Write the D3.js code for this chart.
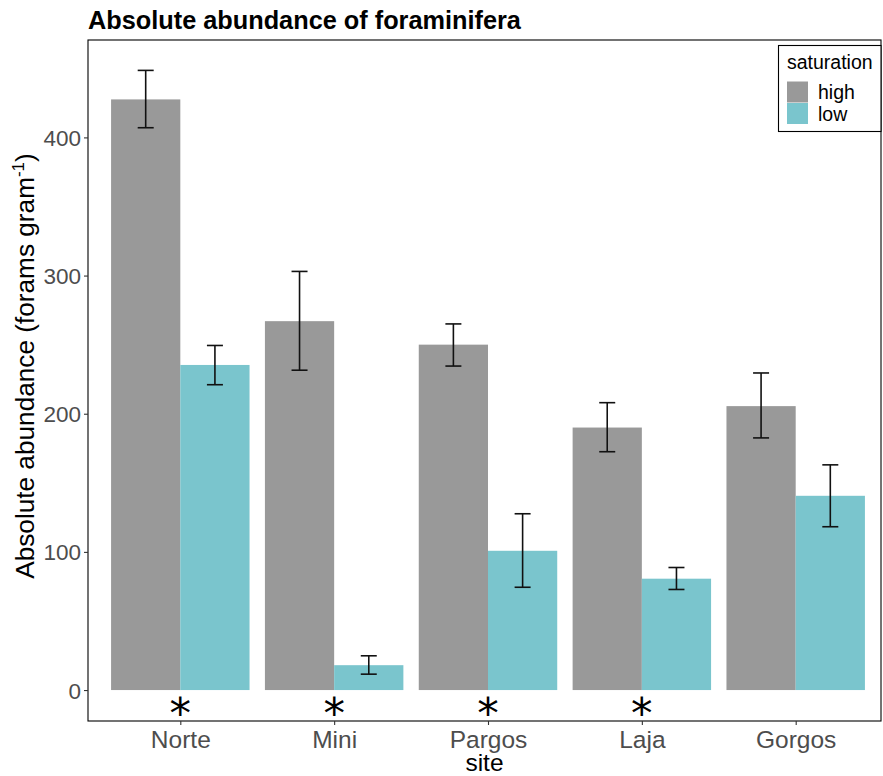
<!DOCTYPE html>
<html>
<head>
<meta charset="utf-8">
<script src="https://cdn.jsdelivr.net/npm/d3@7"></script>
<style>
  html, body { margin: 0; padding: 0; background: #fff; }
  svg { display: block; font-family: "Liberation Sans", Arial, Helvetica, sans-serif; }
</style>
</head>
<body>
<svg id="chart" width="883" height="776"></svg>
<script>
// ---- data ----
const sites = ["Norte", "Mini", "Pargos", "Laja", "Gorgos"];
const groups = ["high", "low"];
const highMean = [427.5, 267, 250, 190, 205.5];
const highLower = [407, 231.5, 234.5, 172.5, 182.5];
const highUpper = [448.5, 303, 265, 208, 229.5];
const lowMean = [235.3, 18, 100.8, 80.6, 140.6];
const lowLower = [221, 11.5, 74.4, 72.8, 118.2];
const lowUpper = [249.4, 24.8, 127.6, 88.7, 163];
const significant = [true, true, true, true, false];
const yTicks = [0, 100, 200, 300, 400];
const colors = { high: "#999999", low: "#7AC5CD" };

const rows = [];
sites.forEach((s, i) => {
  rows.push({ site: s, group: "high", mean: highMean[i], lo: highLower[i], hi: highUpper[i] });
  rows.push({ site: s, group: "low", mean: lowMean[i], lo: lowLower[i], hi: lowUpper[i] });
});

// ---- layout ----
const svg = d3.select("#chart");
const panel = { left: 88, right: 881, top: 40, bottom: 721 };

const x = d3.scalePoint()
  .domain(sites)
  .range([panel.left, 888])
  .padding(0.6);
const groupWidth = 0.9 * x.step();
const xInner = d3.scaleBand().domain(groups).range([-groupWidth / 2, groupWidth / 2]);

const y = d3.scaleLinear().domain([-22.4, 470.5]).range([panel.bottom, panel.top]);

const g = svg.append("g");
const cx = d => x(d.site) + xInner(d.group) + xInner.bandwidth() / 2;

// bars
g.selectAll("rect.bar").data(rows).enter().append("rect")
  .attr("class", "bar")
  .attr("x", d => x(d.site) + xInner(d.group))
  .attr("width", xInner.bandwidth())
  .attr("y", d => y(d.mean))
  .attr("height", d => y(0) - y(d.mean))
  .attr("fill", d => colors[d.group]);

// error bars
const capHalf = 8;
const eb = g.selectAll("g.eb").data(rows).enter().append("g").attr("class", "eb")
  .attr("stroke", "#111").attr("stroke-width", 1.6).attr("fill", "none");
eb.append("line")
  .attr("x1", cx).attr("x2", cx)
  .attr("y1", d => y(d.lo)).attr("y2", d => y(d.hi));
eb.append("line")
  .attr("x1", d => cx(d) - capHalf).attr("x2", d => cx(d) + capHalf)
  .attr("y1", d => y(d.hi)).attr("y2", d => y(d.hi));
eb.append("line")
  .attr("x1", d => cx(d) - capHalf).attr("x2", d => cx(d) + capHalf)
  .attr("y1", d => y(d.lo)).attr("y2", d => y(d.lo));

// asterisks
g.selectAll("text.star").data(sites.filter((s, i) => significant[i])).enter().append("text")
  .attr("class", "star")
  .attr("x", d => x(d))
  .attr("y", y(0) + 38)
  .attr("text-anchor", "middle")
  .attr("font-family", "DejaVu Sans, sans-serif")
  .attr("font-size", 43)
  .attr("fill", "#000")
  .text("*");

// panel border
svg.append("rect")
  .attr("x", panel.left).attr("y", panel.top)
  .attr("width", panel.right - panel.left).attr("height", panel.bottom - panel.top)
  .attr("fill", "none").attr("stroke", "#000").attr("stroke-width", 1.1);

// y axis
const yAxis = d3.axisLeft(y).tickValues(yTicks).tickSize(4).tickPadding(3);
const ya = svg.append("g").attr("transform", `translate(${panel.left},0)`).call(yAxis);
ya.select(".domain").remove();
ya.selectAll(".tick line").attr("stroke", "#333").attr("stroke-width", 1.1);
ya.selectAll(".tick text").attr("fill", "#4D4D4D").attr("font-size", 22.5)
  .attr("font-family", "Liberation Sans, Arial, sans-serif").attr("dy", "0.36em");

// x axis
const xAxis = d3.axisBottom(x).tickSize(4).tickPadding(2);
const xa = svg.append("g").attr("transform", `translate(0,${panel.bottom})`).call(xAxis);
xa.select(".domain").remove();
xa.selectAll(".tick line").attr("stroke", "#333").attr("stroke-width", 1.1);
xa.selectAll(".tick text").attr("fill", "#4D4D4D").attr("font-size", 24.5)
  .attr("font-family", "Liberation Sans, Arial, sans-serif").attr("dy", "0.84em");

// axis titles
svg.append("text")
  .attr("x", (panel.left + panel.right) / 2).attr("y", 771)
  .attr("text-anchor", "middle").attr("font-size", 24.5).attr("fill", "#000")
  .text("site");

const yt = svg.append("text")
  .attr("transform", `translate(34,366) rotate(-90)`)
  .attr("text-anchor", "middle").attr("font-size", 26.2).attr("fill", "#000");
yt.append("tspan").text("Absolute abundance (forams gram");
yt.append("tspan").attr("font-size", 17).attr("dy", -10).text("-1");
yt.append("tspan").attr("dy", 10).text(")");

// title
svg.append("text")
  .attr("x", 88).attr("y", 29)
  .attr("font-size", 25.3).attr("font-weight", "bold").attr("fill", "#000")
  .text("Absolute abundance of foraminifera");

// legend
const leg = svg.append("g");
leg.append("rect").attr("x", 778.5).attr("y", 45.5).attr("width", 102.5).attr("height", 86)
  .attr("fill", "#fff").attr("stroke", "#000").attr("stroke-width", 1.1);
leg.append("text").attr("x", 787).attr("y", 69).attr("font-size", 19.5).attr("fill", "#000").text("saturation");
groups.forEach((grp, i) => {
  leg.append("rect").attr("x", 787).attr("y", 81.5 + i * 21.5).attr("width", 21).attr("height", 21)
    .attr("fill", colors[grp]);
  leg.append("text").attr("x", 818).attr("y", 99 + i * 21.5).attr("font-size", 19.5).attr("fill", "#000").text(grp);
});
</script>
</body>
</html>
